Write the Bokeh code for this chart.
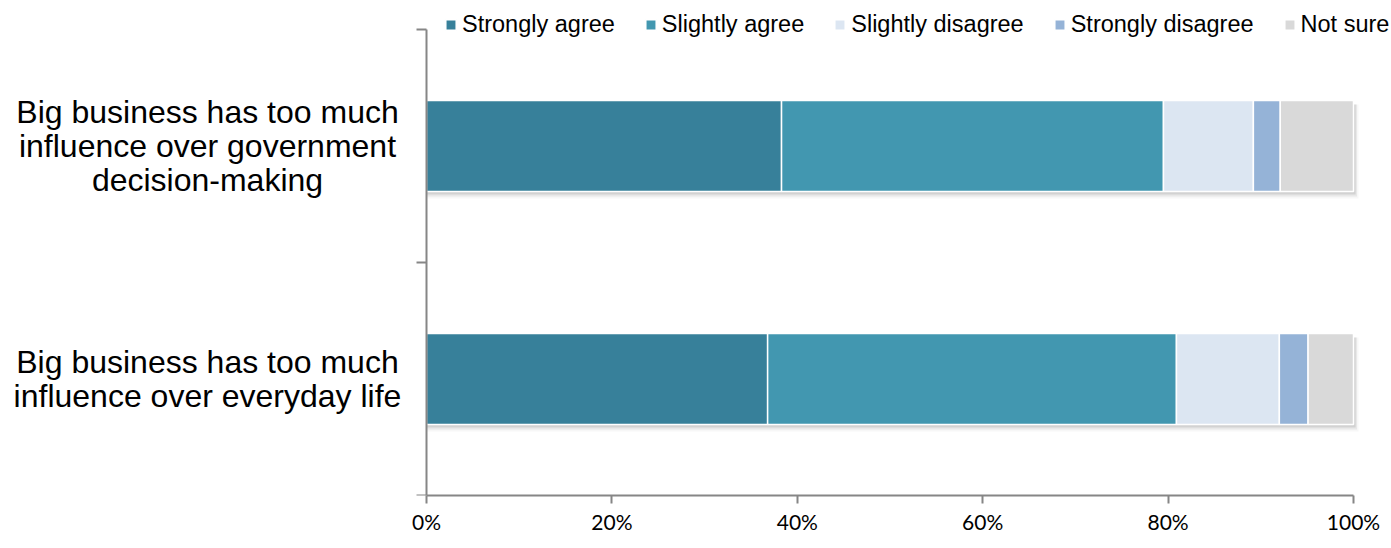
from bokeh.plotting import figure
from bokeh.models import (ColumnDataSource, Range1d, FixedTicker, NumeralTickFormatter,
                          Legend, LegendItem, Label)
from bokeh.embed import file_html
from bokeh.resources import INLINE

# ---- data ----
statements = ["Big business has too much\ninfluence over government\ndecision-making",
              "Big business has too much\ninfluence over everyday life"]
responses = ["Strongly agree", "Slightly agree", "Slightly disagree", "Strongly disagree", "Not sure"]
strongly_agree = [0.383, 0.368]
slightly_agree = [0.412, 0.441]
slightly_disagree = [0.097, 0.111]
strongly_disagree = [0.029, 0.031]
not_sure = [0.079, 0.049]
x_ticks = [0, 0.2, 0.4, 0.6, 0.8, 1.0]

colors = ["#37809A", "#4297B0", "#DCE6F2", "#95B3D7", "#D9D9D9"]
series = [strongly_agree, slightly_agree, slightly_disagree, strongly_disagree, not_sure]

ypos = [1.5, 0.5]  # top bar = first statement
bar_h = 0.39

# frame spans whole width; 0..1 maps to pixels 426..1353, y 0..2 maps to 495..29
W, H = 1391, 548
x0px, x1px = 426, 1353
ytop, ybot = 29, 495
ux = x1px - x0px
uy = (ybot - ytop) / 2.0
p = figure(width=W, height=H, output_backend="svg", toolbar_location=None,
           x_range=Range1d(-x0px / ux, (W - x0px) / ux),
           y_range=Range1d(0, ybot / uy),
           min_border_left=0, min_border_right=0, min_border_top=0, min_border_bottom=H - ybot)
p.outline_line_color = None
p.xgrid.visible = False
p.ygrid.visible = False
p.background_fill_color = "white"
p.border_fill_color = "white"

# shadows
px = 1.0 / uy
for k, a in [(7, 0.06), (5, 0.12), (3, 0.2)]:
    p.quad(left=[0, 0], right=[1 + k * 0.7 / ux, 1 + k * 0.7 / ux],
           bottom=[y - bar_h / 2 - k * px for y in ypos],
           top=[y + bar_h / 2 - 4 * px for y in ypos],
           fill_color="#7f7f7f", fill_alpha=a, line_color=None)

renderers = []
lefts = [0.0, 0.0]
for vals, col in zip(series, colors):
    rights = [l + v for l, v in zip(lefts, vals)]
    src = ColumnDataSource(dict(y=ypos, left=lefts, right=rights))
    r = p.hbar(y="y", left="left", right="right", height=bar_h, source=src,
               fill_color=col, line_color="white", line_width=1.5)
    renderers.append(r)
    lefts = rights

# axes
p.xaxis.ticker = FixedTicker(ticks=x_ticks)
p.xaxis.bounds = (0, 1)
p.xaxis.formatter = NumeralTickFormatter(format="0%")
p.xaxis.major_tick_out = 8
p.xaxis.major_tick_in = 0
p.xaxis.minor_tick_line_color = None
p.xaxis.axis_line_color = "#868686"
p.xaxis.axis_line_width = 2
p.xaxis.major_tick_line_color = "#868686"
p.xaxis.major_tick_line_width = 2
p.xaxis.major_label_text_font = "Lato"
p.xaxis.major_label_text_font_size = "21px"
p.xaxis.major_label_text_color = "#000000"
p.xaxis.major_label_standoff = 5

p.yaxis.fixed_location = 0
p.yaxis.bounds = (0, 2)
p.yaxis.ticker = FixedTicker(ticks=[0, 1, 2])
p.yaxis.major_label_overrides = {0: "", 1: "", 2: ""}
p.yaxis.major_tick_out = 10
p.yaxis.major_tick_in = 0
p.yaxis.minor_tick_line_color = None
p.yaxis.axis_line_color = "#868686"
p.yaxis.axis_line_width = 2
p.yaxis.major_tick_line_color = "#868686"
p.yaxis.major_tick_line_width = 2

# category labels
for txt, y in zip(statements, ypos):
    p.add_layout(Label(x=207, y=y, x_units="screen", y_units="data", text=txt,
                       text_align="center", text_baseline="middle",
                       text_font="Liberation Sans", text_font_size="32px",
                       text_line_height=0.95, text_color="#000000"))

legend = Legend(items=[LegendItem(label=lab, renderers=[r]) for lab, r in zip(responses, renderers)],
                orientation="horizontal", location=(444, ybot - 38),
                glyph_width=13, glyph_height=13, label_standoff=5, spacing=29,
                padding=0, margin=0, border_line_color=None, background_fill_alpha=0,
                label_text_font="Liberation Sans", label_text_font_size="23.5px",
                label_text_color="#000000")
p.add_layout(legend)

open("out.html", "w").write(file_html(p, INLINE))
